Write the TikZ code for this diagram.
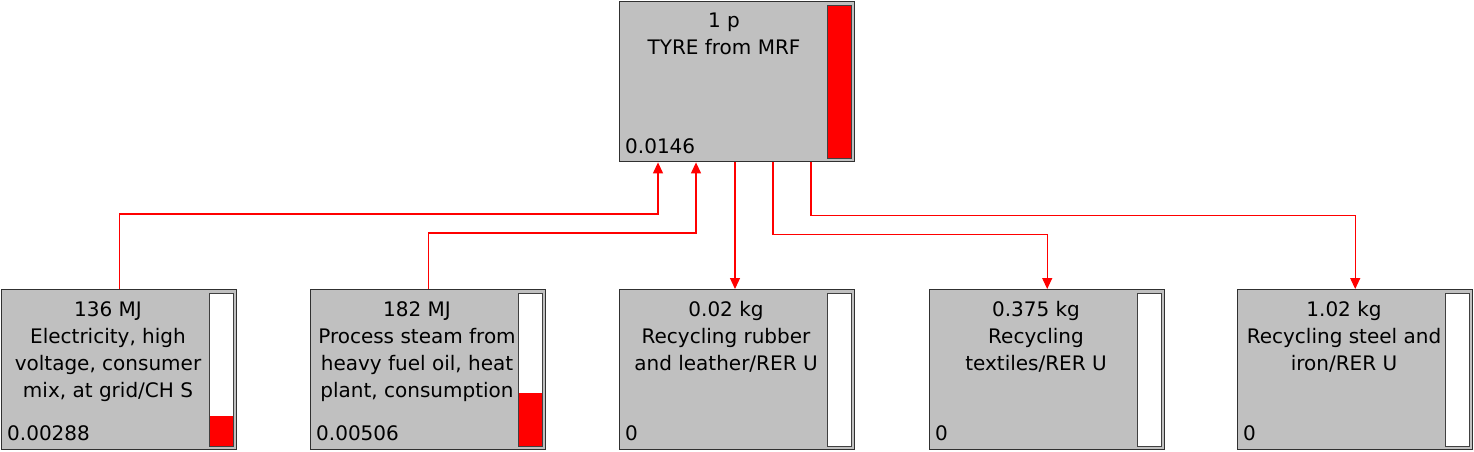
\documentclass[tikz,border=0pt]{standalone}
\usepackage{fontspec}
\setmainfont{DejaVu Sans}
\usetikzlibrary{arrows.meta,calc}
\definecolor{boxgray}{HTML}{C0C0C0}
\definecolor{edge}{HTML}{303030}
\tikzset{
  procbox/.style={draw=edge, line width=1.4pt, fill=boxgray, anchor=north west, inner sep=0pt, minimum width=235pt, minimum height=160pt},
  gauge/.style={draw=black!75, line width=0.9pt, fill=white, anchor=north west, inner sep=0pt, minimum width=24pt, minimum height=153pt,
    path picture={\fill[red] (path picture bounding box.south west) rectangle ([yshift=#1]path picture bounding box.south east);}},
  gauge/.default=0pt,
  caption/.style={anchor=north, align=center, font=\fontsize{20}{27}\selectfont, inner sep=0pt},
  score/.style={anchor=base west, font=\fontsize{20}{27}\selectfont, inner sep=0pt},
  flow/.style={red, line width=1.2pt, -{Triangle[length=11pt,width=10pt]}}
}
\begin{document}
\begin{tikzpicture}[x=1pt,y=-1pt]
    \useasboundingbox (0,0) rectangle (1474,451);
    % the product on top
    \node [procbox] (tyre) at (619,1) {};
    \node [gauge=153pt] (tyregauge) at (827,5) {};
    \node [caption] (tyrename) at (724,13) {1 p\\TYRE from MRF};
    \node [score] (tyrescore) at (625,153) {0.0146};
    % the processes below it
    \foreach \id/\xx/\what/\val/\share in {
        elec/1/{136 MJ\\Electricity, high\\voltage, consumer\\mix, at grid/CH S}/0.00288/30pt,
        steam/310/{182 MJ\\Process steam from\\heavy fuel oil, heat\\plant, consumption}/0.00506/53pt,
        rubber/619/{0.02 kg\\Recycling rubber\\and leather/RER U}/0/0pt,
        textile/929/{0.375 kg\\Recycling\\textiles/RER U}/0/0pt,
        steel/1237/{1.02 kg\\Recycling steel and\\iron/RER U}/0/0pt}{
        \node [procbox] (\id) at (\xx,289) {};
        \node [gauge=\share] (\id gauge) at (\xx+208,293) {};
        \node [caption] (\id name) at (\xx+107,301) {\what};
        \node [score] (\id score) at (\xx+6,440) {\val};
    }
    % flows
    \draw [flow] (elec.north) -- ++(0,-75) -| ([xshift=39pt]tyre.south west);
    \draw [flow] (steam.north) -- ++(0,-56) -| ([xshift=77pt]tyre.south west);
    \coordinate (out1) at ([xshift=116pt]tyre.south west);
    \draw [flow] (out1) -- (out1 |- rubber.north);
    \draw [flow] ([xshift=154pt]tyre.south west) -- ++(0,72) -| (textile.north);
    \draw [flow] ([xshift=192pt]tyre.south west) -- ++(0,53) -| (steel.north);
\end{tikzpicture}
\end{document}
